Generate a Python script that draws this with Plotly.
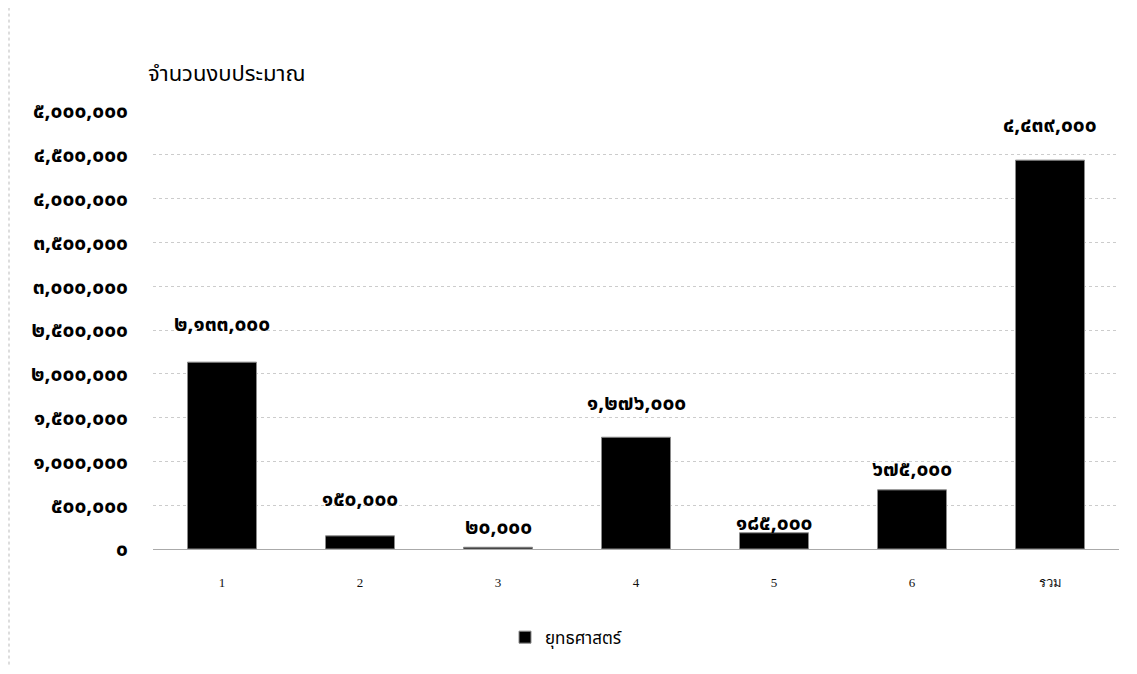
import plotly.graph_objects as go

categories = ["1", "2", "3", "4", "5", "6", "รวม"]
values = [2133000, 150000, 20000, 1276000, 185000, 675000, 4439000]
tick_values = [0, 500000, 1000000, 1500000, 2000000, 2500000, 3000000, 3500000, 4000000, 4500000, 5000000]
series_name = "ยุทธศาสตร์"
title_text = "จำนวนงบประมาณ"
# data-label vertical offsets in px (labels were placed by hand in the original)
label_shift = [20, 19, 2, 16, -8, 3, 17]

THAI = str.maketrans("0123456789", "๐๑๒๓๔๕๖๗๘๙")


def thai_num(v):
    return f"{v:,}".translate(THAI)


tick_text = [thai_num(v) for v in tick_values]
label_font = dict(family="Tahoma, Noto Sans Thai, Loma, Garuda, sans-serif", size=21, color="#000", weight="bold")

fig = go.Figure()
fig.add_trace(go.Bar(
    x=categories, y=values, name=series_name,
    marker=dict(color="#000000", line=dict(color="#8a8a8a", width=1)),
    width=0.5, showlegend=True,
))

for i, (v, s) in enumerate(zip(values, label_shift)):
    fig.add_annotation(x=i, y=v, text=thai_num(v), showarrow=False,
                       yanchor="bottom", yshift=s, font=label_font)

W, H = 1121, 658
L, R, T, B = 145, 10, 103, 115
pw, ph = W - L - R, H - T - B

fig.update_layout(
    width=W, height=H,
    paper_bgcolor="white", plot_bgcolor="white",
    margin=dict(l=L, r=R, t=T, b=B),
    title=dict(text=title_text, x=140 / W, xanchor="left", y=1 - 65 / H, yanchor="middle",
               font=dict(family="Tahoma, Noto Sans Thai, sans-serif", size=22, color="#000")),
    showlegend=True,
    legend=dict(orientation="h", x=(558 - L) / pw, xanchor="center", y=-(632 - (T + ph)) / ph, yanchor="middle",
                itemwidth=30,
                font=dict(family="Tahoma, Noto Sans Thai, sans-serif", size=17, color="#000")),
    xaxis=dict(type="category", showline=False, ticks="", ticklabelstandoff=24,
               tickfont=dict(family="Liberation Serif, serif", size=13, color="#111")),
    yaxis=dict(range=[0, 5000000], tickvals=tick_values, ticktext=tick_text,
               showgrid=True, gridcolor="#cccccc", griddash="dot", gridwidth=1,
               zeroline=True, zerolinecolor="#aaaaaa", zerolinewidth=1,
               tickfont=label_font, ticklabelstandoff=24),
    bargap=0.5,
    shapes=[dict(type="rect", xref="paper", yref="paper", x0=-(L - 1) / pw, x1=1 + (R + 20) / pw,
                 y0=-(B + 20) / ph, y1=1 + (T + 2) / ph,
                 line=dict(color="#bbbbbb", width=1, dash="dot"))],
)

fig.write_html("out.html")
